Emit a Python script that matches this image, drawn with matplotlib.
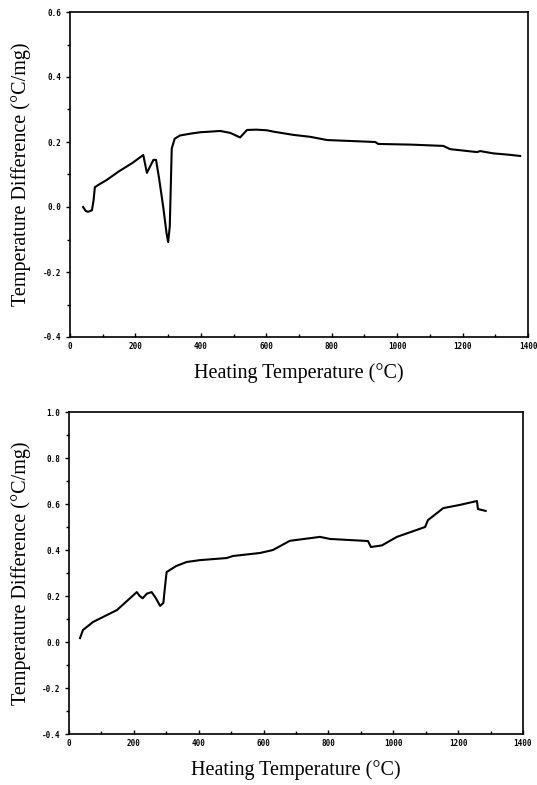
import numpy as np
from matplotlib import pyplot as plt
from matplotlib.ticker import MultipleLocator, FormatStrFormatter

# top curve (sample 1)
temp_a = [40, 48, 55, 62, 67, 72, 76, 90, 112, 150, 190, 224, 230, 235, 245, 255, 263,
          272, 285, 295, 300, 305, 311, 320, 336, 370, 398, 430, 459, 490, 520, 530,
          541, 570, 602, 621, 682, 734, 786, 860, 933, 942, 1040, 1141, 1162, 1244,
          1254, 1294, 1340, 1376]
dta_a = [0.0, -0.012, -0.015, -0.012, -0.01, 0.02, 0.061, 0.07, 0.083, 0.11, 0.135,
         0.16, 0.13, 0.105, 0.125, 0.145, 0.145, 0.09, 0.0, -0.08, -0.108, -0.06,
         0.18, 0.21, 0.22, 0.226, 0.23, 0.232, 0.234, 0.228, 0.214, 0.225, 0.237,
         0.238, 0.236, 0.232, 0.222, 0.216, 0.206, 0.203, 0.2, 0.194, 0.192, 0.188,
         0.178, 0.169, 0.172, 0.165, 0.161, 0.157]

# bottom curve (sample 2)
temp_b = [34, 43, 74, 148, 209, 218, 227, 240, 255, 268, 281, 291, 296, 301, 330, 363,
          404, 486, 506, 589, 629, 681, 774, 805, 922, 931, 965, 1011, 1098, 1107,
          1154, 1205, 1258, 1261, 1285]
dta_b = [0.017, 0.052, 0.087, 0.139, 0.217, 0.2, 0.19, 0.21, 0.217, 0.19, 0.157,
         0.17, 0.24, 0.304, 0.33, 0.348, 0.356, 0.365, 0.374, 0.387, 0.4, 0.44,
         0.457, 0.448, 0.439, 0.413, 0.42, 0.457, 0.5, 0.53, 0.582, 0.596, 0.613,
         0.578, 0.57]

x_label = 'Heating Temperature (°C)'
y_label = 'Temperature Difference (°C/mg)'

fig = plt.figure(figsize=(5.37, 7.85), dpi=100)
ax1 = fig.add_axes([70/537, 1 - 337/785, 458/537, 325/785])
ax2 = fig.add_axes([69/537, 1 - 734/785, 454/537, 322/785])


def style(ax, ylim, xc, yc):
    ax.set_xlim(0, 1400)
    ax.set_ylim(*ylim)
    ax.xaxis.set_major_locator(MultipleLocator(200))
    ax.xaxis.set_minor_locator(MultipleLocator(100))
    ax.yaxis.set_major_locator(MultipleLocator(0.2))
    ax.yaxis.set_minor_locator(MultipleLocator(0.1))
    ax.yaxis.set_major_formatter(FormatStrFormatter('%.1f'))
    ax.tick_params(axis='x', which='both', direction='in', length=3, width=1)
    ax.tick_params(axis='x', which='minor', length=2)
    ax.tick_params(axis='y', which='both', direction='out', length=3, width=1)
    ax.tick_params(axis='y', which='minor', length=2)
    for lab in ax.get_xticklabels() + ax.get_yticklabels():
        lab.set_fontfamily('DejaVu Sans Mono')
        lab.set_fontweight('bold')
        lab.set_fontsize(5.5)
    for s in ax.spines.values():
        s.set_linewidth(1.2)
    ax.set_xlabel(x_label, family='Liberation Serif', fontsize=14.5, va='center')
    ax.set_ylabel(y_label, family='Liberation Serif', fontsize=14.5, va='center')
    ax.xaxis.set_label_coords(0.5, xc)
    ax.yaxis.set_label_coords(yc, 0.5)


ax1.plot(temp_a, dta_a, color='black', lw=1.5)
style(ax1, (-0.4, 0.6), -0.111, -0.107)

ax2.plot(temp_b, dta_b, color='black', lw=1.5)
style(ax2, (-0.4, 1.0), -0.112, -0.106)

fig.savefig('out.png', dpi=100)
